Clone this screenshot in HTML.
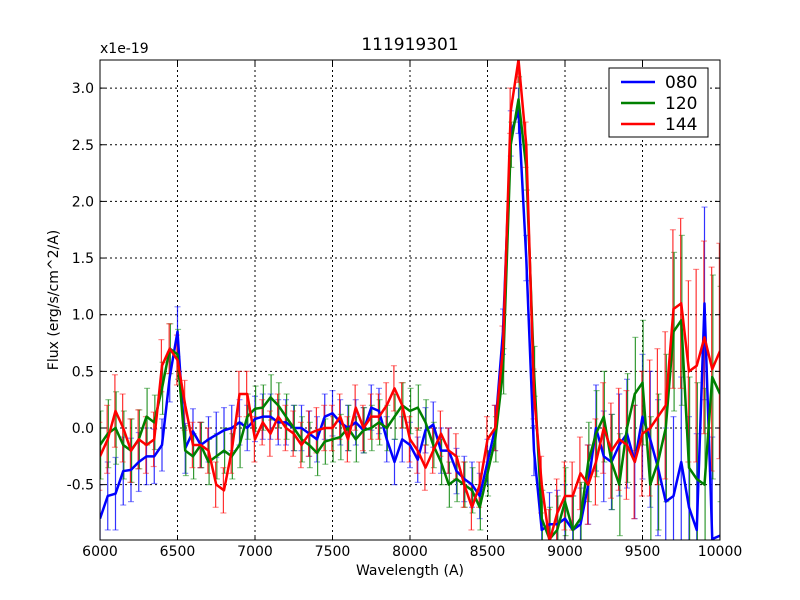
<!DOCTYPE html>
<html><head><meta charset="utf-8"><style>
html,body{margin:0;padding:0;background:#fff;overflow:hidden;width:800px;height:600px;}
svg{display:block;font-family:"DejaVu Sans","Liberation Sans",sans-serif;}
</style></head><body>
<svg id="chart" width="800" height="600" xmlns="http://www.w3.org/2000/svg">
<rect width="800" height="600" fill="#fff"/>
<defs><clipPath id="clip"><rect x="100" y="60" width="620" height="480"/></clipPath></defs>
<g id="grid"></g>
<g id="series" clip-path="url(#clip)"></g>
<rect x="100" y="60" width="620" height="480" fill="none" stroke="#000" stroke-width="1"/>
<g id="ticks"></g>
<text x="410" y="50" font-size="17" text-anchor="middle">111919301</text>
<text x="100" y="53" font-size="14">x1e-19</text>
<text x="410" y="575" font-size="14" text-anchor="middle">Wavelength (A)</text>
<text x="58" y="300" font-size="14" text-anchor="middle" transform="rotate(-90 58 300)">Flux (erg/s/cm^2/A)</text>
<g>
<rect x="609" y="68" width="99" height="69" fill="#fff" stroke="#000"/>
<line x1="621" y1="82" x2="655" y2="82" stroke="#0000ff" stroke-width="2.5"/>
<text x="665" y="88" font-size="17">080</text>
<line x1="621" y1="103" x2="655" y2="103" stroke="#008000" stroke-width="2.5"/>
<text x="665" y="109" font-size="17">120</text>
<line x1="621" y1="124" x2="655" y2="124" stroke="#ff0000" stroke-width="2.5"/>
<text x="665" y="130" font-size="17">144</text>
</g>
</svg>
<script>
const waves=[];for(let w=6000;w<=10000;w+=50)waves.push(w);
const s080=[-0.8,-0.6,-0.58,-0.38,-0.37,-0.3,-0.25,-0.25,-0.15,0.45,0.85,-0.18,-0.03,-0.15,-0.1,-0.06,-0.02,0.0,0.05,0.0,0.08,0.1,0.1,0.05,0.05,0.0,0.0,-0.05,-0.1,0.1,0.13,0.05,0.0,0.05,-0.02,0.18,0.15,-0.1,-0.3,-0.1,-0.15,-0.28,-0.02,0.03,-0.2,-0.2,-0.38,-0.45,-0.5,-0.6,-0.3,0.0,0.85,2.6,2.8,1.5,-0.2,-0.9,-0.85,-0.85,-0.8,-0.9,-0.85,-0.5,0.0,-0.25,-0.3,-0.15,-0.05,-0.3,0.1,-0.1,-0.35,-0.65,-0.6,-0.3,-0.7,-0.9,1.1,-0.98,-0.95];
const s120=[-0.15,-0.05,0.0,-0.15,-0.2,-0.1,0.1,0.05,0.35,0.7,0.65,-0.2,-0.25,-0.15,-0.3,-0.25,-0.2,-0.25,-0.15,0.1,0.17,0.18,0.27,0.2,0.1,0.0,-0.1,-0.15,-0.22,-0.12,-0.1,-0.08,0.0,-0.1,-0.02,0.0,0.05,0.0,0.1,0.2,0.15,0.18,0.05,-0.15,-0.3,-0.5,-0.45,-0.5,-0.55,-0.7,-0.4,-0.1,0.5,2.5,2.9,2.3,0.5,-0.8,-0.98,-0.9,-0.65,-0.9,-0.8,-0.3,-0.05,0.1,-0.3,-0.5,0.0,0.3,0.4,-0.5,-0.3,0.0,0.85,0.95,-0.35,-0.45,-0.5,0.45,0.3];
const s144=[-0.25,-0.1,0.15,0.0,-0.2,-0.1,-0.15,-0.1,0.55,0.7,0.6,0.2,-0.15,-0.15,-0.2,-0.5,-0.55,-0.2,0.3,0.3,-0.1,0.05,-0.05,0.1,0.0,-0.05,-0.15,-0.05,-0.02,0.0,0.0,0.1,-0.1,0.18,0.0,0.1,0.1,0.2,0.35,0.2,-0.1,-0.2,-0.35,-0.2,-0.05,-0.2,-0.25,-0.5,-0.7,-0.5,-0.1,0.0,0.7,2.8,3.25,2.5,0.3,-0.5,-1.0,-0.75,-0.6,-0.6,-0.4,-0.5,-0.3,0.0,-0.2,-0.1,-0.15,-0.3,-0.05,0.0,0.1,0.2,1.05,1.1,0.5,0.55,0.8,0.52,0.68];
const errs=[0.3,0.3,0.32,0.3,0.28,0.26,0.25,0.24,0.23,0.22,0.22,0.22,0.2,0.2,0.2,0.2,0.2,0.2,0.2,0.2,0.2,0.2,0.2,0.2,0.2,0.2,0.2,0.2,0.2,0.2,0.2,0.2,0.2,0.2,0.2,0.2,0.2,0.2,0.2,0.2,0.2,0.2,0.2,0.2,0.2,0.2,0.2,0.2,0.2,0.2,0.2,0.2,0.2,0.2,0.2,0.2,0.22,0.25,0.28,0.3,0.3,0.3,0.32,0.35,0.38,0.4,0.42,0.45,0.48,0.5,0.55,0.6,0.6,0.65,0.7,0.75,0.8,0.85,0.85,0.9,0.95];
const xTicks=[6000,6500,7000,7500,8000,8500,9000,9500,10000];
const yTicks=[-0.5,0.0,0.5,1.0,1.5,2.0,2.5,3.0];
const yTickLabels=["-0.5","0.0","0.5","1.0","1.5","2.0","2.5","3.0"];
const NS="http://www.w3.org/2000/svg";
function xs(v){return 100+(v-6000)/4000*620;}
function ys(v){return 428-v*113.3;}
function yc(v){return Math.max(58,Math.min(542,ys(v)));}
function mk(tag,attrs,parent){const e=document.createElementNS(NS,tag);for(const k in attrs)e.setAttribute(k,attrs[k]);parent.appendChild(e);return e;}
const grid=document.getElementById('grid'),ticks=document.getElementById('ticks'),ser=document.getElementById('series');
xTicks.forEach(t=>{const x=xs(t);
 const g=mk('line',{x1:x,y1:60,x2:x,y2:540,stroke:'#000','stroke-dasharray':'2,3','stroke-width':1},grid);
 
 
 mk('line',{x1:x,y1:540,x2:x,y2:535,stroke:'#000'},ticks);
 mk('line',{x1:x,y1:60,x2:x,y2:65,stroke:'#000'},ticks);
 const tx=mk('text',{x:x,y:556,'font-size':14,'text-anchor':'middle'},ticks);tx.textContent=t;
 
 
});
yTicks.forEach((t,i)=>{const y=ys(t);
 const g=mk('line',{x1:100,y1:y,x2:720,y2:y,stroke:'#000','stroke-dasharray':'2,3','stroke-width':1},grid);
 
 
 mk('line',{x1:100,y1:y,x2:105,y2:y,stroke:'#000'},ticks);
 mk('line',{x1:720,y1:y,x2:715,y2:y,stroke:'#000'},ticks);
 const tx=mk('text',{x:94,y:y+5,'font-size':14,'text-anchor':'end'},ticks);tx.textContent=yTickLabels[i];
 
 
});
const series=[{d:s080,c:'#0000ff',n:'080',off:0},{d:s120,c:'#008000',n:'120',off:0.6},{d:s144,c:'#ff0000',n:'144',off:-0.6}];
series.forEach(s=>{
 const eg=mk('g',{},ser);
 
 
 s.d.forEach((v,i)=>{const x=xs(waves[i])+s.off;const e=errs[i];
  mk('line',{x1:x,y1:yc(v-e),x2:x,y2:yc(v+e),stroke:s.c,'stroke-width':1.2,opacity:0.8},eg);
  if(ys(v-e)<=540)mk('line',{x1:x-3,y1:ys(v-e),x2:x+3,y2:ys(v-e),stroke:s.c,'stroke-width':1.2,opacity:0.45},eg);
  if(ys(v+e)>=60)mk('line',{x1:x-3,y1:ys(v+e),x2:x+3,y2:ys(v+e),stroke:s.c,'stroke-width':1.2,opacity:0.45},eg);
 });
});
series.forEach(s=>{
 const p=mk('polyline',{points:s.d.map((v,i)=>xs(waves[i])+','+yc(v)).join(' '),fill:'none',stroke:s.c,'stroke-width':2.5,'stroke-linejoin':'round'},ser);
 
 
});
</script>
</body></html>
